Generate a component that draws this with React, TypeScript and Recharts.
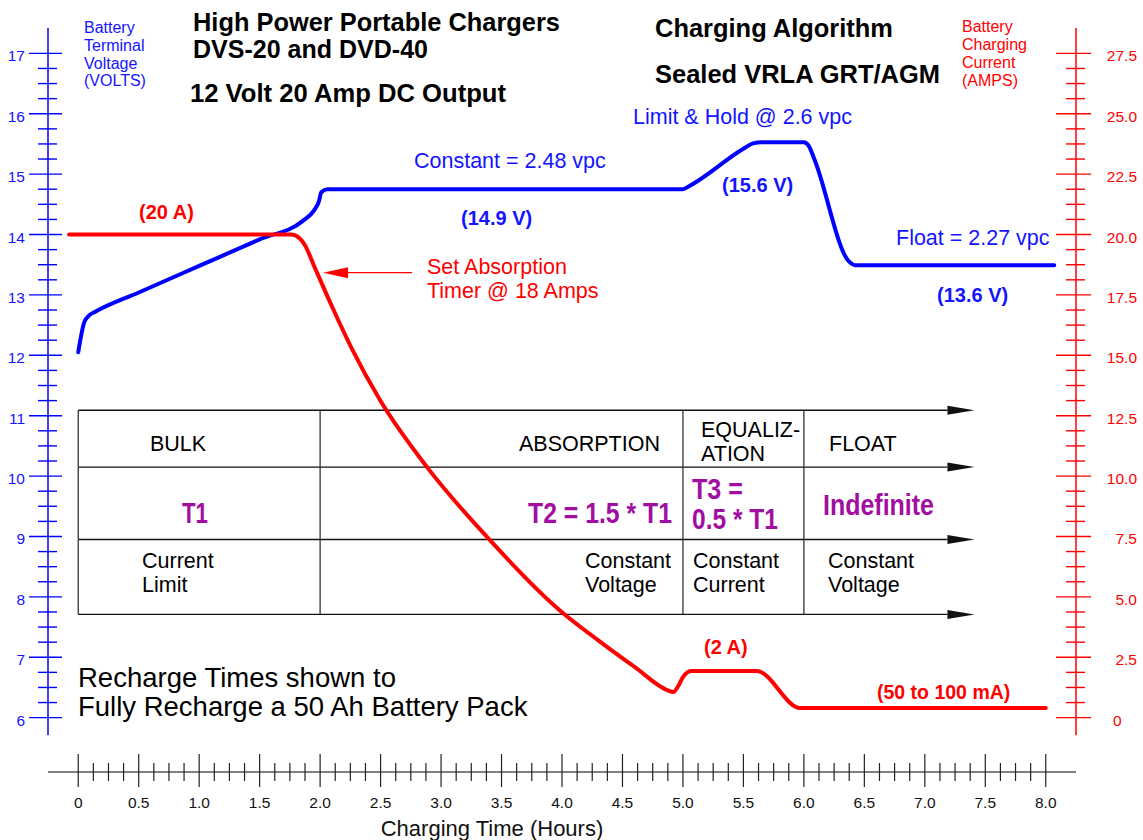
import React from 'react';
import { ComposedChart, Line, XAxis, YAxis, ReferenceLine } from 'recharts';

const FONT = '"Liberation Sans", Arial, Helvetica, sans-serif';
const BLUE = '#0000ff';
const BLUE_TEXT = '#1414ff';
const RED = '#ff0000';
const PURPLE = '#a10ea1';

// Battery terminal voltage (V) vs charging time (hours)
const voltTime = [0, 0.05, 0.09, 0.14, 0.5, 1.0, 1.5, 1.86, 1.95, 1.99, 2.01, 2.06, 5.0, 5.05, 5.5, 5.58, 5.65, 6.0, 6.04, 6.09, 6.37, 6.43, 8.07];
const voltValue = [12.05, 12.55, 12.66, 12.72, 13.04, 13.48, 13.92, 14.23, 14.4, 14.55, 14.7, 14.75, 14.75, 14.8, 15.42, 15.51, 15.53, 15.53, 15.47, 15.23, 13.56, 13.49, 13.49];

// Battery charging current (A) vs charging time (hours)
const ampTime = [-0.076, 1.76, 1.83, 1.875, 1.95, 2.1, 2.26, 2.495, 2.884, 3.389, 3.98, 4.3, 4.6, 4.88, 4.92, 4.96, 5.0, 5.07, 5.61, 5.97, 8.0];
const ampValue = [20, 20, 19.85, 19.56, 18.7, 17.0, 15.3, 13.15, 10.37, 7.43, 4.45, 3.2, 2.1, 1.12, 1.06, 1.3, 1.68, 1.93, 1.93, 0.4, 0.4];

// Axis ticks
const xMajorTicks = [0, 0.5, 1, 1.5, 2, 2.5, 3, 3.5, 4, 4.5, 5, 5.5, 6, 6.5, 7, 7.5, 8];
const xTickLabels = ['0', '0.5', '1.0', '1.5', '2.0', '2.5', '3.0', '3.5', '4.0', '4.5', '5.0', '5.5', '6.0', '6.5', '7.0', '7.5', '8.0'];
const voltMajorTicks = [6, 7, 8, 9, 10, 11, 12, 13, 14, 15, 16, 17];
const voltTickLabels = ['6', '7', '8', '9', '10', '11', '12', '13', '14', '15', '16', '17'];
const ampMajorTicks = [0, 2.5, 5, 7.5, 10, 12.5, 15, 17.5, 20, 22.5, 25, 27.5];
const ampTickLabels = ['0', '2.5', '5.0', '7.5', '10.0', '12.5', '15.0', '17.5', '20.0', '22.5', '25.0', '27.5'];

// Phase table grid (in chart units: hours / volts)
const tableRowsV = [11.09, 10.15, 8.95, 7.71];
const tableColsT = [0, 2, 5, 6];
const tableArrowEndT = 7.41;

const xTicks = Array.from({ length: 65 }, (_, i) => i * 0.125);
const voltTicks = Array.from({ length: 45 }, (_, i) => 6 + i * 0.25);
const ampTicks = Array.from({ length: 45 }, (_, i) => i * 0.625);

const voltData = voltTime.map((t, i) => ({ t, v: voltValue[i] }));
const ampData = ampTime.map((t, i) => ({ t, a: ampValue[i] }));

const findIdx = (arr: number[], v: number) => arr.findIndex((m) => Math.abs(m - v) < 1e-6);

const XTick = (p: any) => {
  const { x, y, payload } = p;
  const idx = findIdx(xMajorTicks, payload.value);
  const major = idx >= 0;
  return (
    <g>
      <line x1={x} x2={x} y1={y + (major ? -18 : -9)} y2={y + (major ? 15 : 9)} stroke="#222" strokeWidth={1.2} />
      {major && (
        <text x={x} y={y + 36} textAnchor="middle" fontSize={15.5} fontFamily={FONT} fill="#111">
          {xTickLabels[idx]}
        </text>
      )}
    </g>
  );
};

const VTick = (p: any) => {
  const { x, y, payload } = p;
  const idx = findIdx(voltMajorTicks, payload.value);
  const major = idx >= 0;
  return (
    <g>
      <line x1={x - (major ? 19 : 10)} x2={x + (major ? 14 : 9)} y1={y} y2={y} stroke={BLUE} strokeWidth={1.4} />
      {major && (
        <text x={x - 23} y={y + 8} textAnchor="end" fontSize={15.5} fontFamily={FONT} fill={BLUE_TEXT}>
          {voltTickLabels[idx]}
        </text>
      )}
    </g>
  );
};

const ATick = (p: any) => {
  const { x, y, payload } = p;
  const idx = findIdx(ampMajorTicks, payload.value);
  const major = idx >= 0;
  const label = idx >= 0 ? ampTickLabels[idx] : '';
  return (
    <g>
      <line x1={x - (major ? 20 : 10)} x2={x + (major ? 15 : 9)} y1={y} y2={y} stroke={RED} strokeWidth={1.4} />
      {major && (
        <text
          x={label === '0' ? x + 37 : x + 61}
          y={y + 8}
          textAnchor={label === '0' ? 'start' : 'end'}
          fontSize={15.5}
          fontFamily={FONT}
          fill={RED}
        >
          {label}
        </text>
      )}
    </g>
  );
};

const makeArrow = (color: string, len: number, half: number, width: number) => (p: any) => {
  const { x1, y1, x2, y2 } = p;
  const dx = x2 - x1;
  const dy = y2 - y1;
  const L = Math.hypot(dx, dy) || 1;
  const ux = dx / L;
  const uy = dy / L;
  const bx = x2 - ux * len;
  const by = y2 - uy * len;
  return (
    <g>
      <line x1={x1} y1={y1} x2={bx} y2={by} stroke={color} strokeWidth={width} />
      <polygon points={`${x2},${y2} ${bx - uy * half},${by + ux * half} ${bx + uy * half},${by - ux * half}`} fill={color} />
    </g>
  );
};

type Note = { t: string; x: number; y: number; s?: number; b?: boolean; c?: string; w?: number; a?: 'start' | 'middle' | 'end' };

const notes: Note[] = [
  { t: 'High Power Portable Chargers', x: 193, y: 31, s: 26, b: true, w: 367 },
  { t: 'DVS-20 and DVD-40', x: 193, y: 58, s: 26, b: true, w: 235 },
  { t: '12 Volt 20 Amp DC Output', x: 190, y: 102, s: 26, b: true, w: 316 },
  { t: 'Charging Algorithm', x: 655, y: 37, s: 26, b: true, w: 238 },
  { t: 'Sealed VRLA GRT/AGM', x: 655, y: 83, s: 26, b: true, w: 285 },
  { t: 'Battery', x: 84, y: 33, s: 16, c: BLUE_TEXT },
  { t: 'Terminal', x: 84, y: 51, s: 16, c: BLUE_TEXT },
  { t: 'Voltage', x: 84, y: 68.5, s: 16, c: BLUE_TEXT },
  { t: '(VOLTS)', x: 84, y: 86, s: 16, c: BLUE_TEXT },
  { t: 'Battery', x: 962, y: 32, s: 16, c: RED },
  { t: 'Charging', x: 962, y: 50, s: 16, c: RED },
  { t: 'Current', x: 962, y: 68, s: 16, c: RED },
  { t: '(AMPS)', x: 962, y: 86, s: 16, c: RED },
  { t: '(20 A)', x: 139, y: 219, s: 20, b: true, c: RED },
  { t: 'Set Absorption', x: 427, y: 274, s: 21.5, c: RED },
  { t: 'Timer @ 18 Amps', x: 427, y: 298, s: 21.5, c: RED },
  { t: 'Constant = 2.48 vpc', x: 414, y: 168, s: 21.5, c: BLUE_TEXT },
  { t: '(14.9 V)', x: 461, y: 225, s: 20, b: true, c: BLUE_TEXT },
  { t: 'Limit & Hold @ 2.6 vpc', x: 633, y: 124, s: 21.5, c: BLUE_TEXT },
  { t: '(15.6 V)', x: 722, y: 192, s: 20, b: true, c: BLUE_TEXT },
  { t: 'Float = 2.27 vpc', x: 896, y: 245, s: 21.5, c: BLUE_TEXT },
  { t: '(13.6 V)', x: 937, y: 302, s: 20, b: true, c: BLUE_TEXT },
  { t: '(2 A)', x: 704, y: 654, s: 20, b: true, c: RED },
  { t: '(50 to 100 mA)', x: 877, y: 699, s: 19.5, b: true, c: RED },
  { t: 'Recharge Times shown to', x: 78, y: 687, s: 27.5 },
  { t: 'Fully Recharge a 50 Ah Battery Pack', x: 78, y: 716, s: 27.5 },
  { t: 'BULK', x: 150, y: 451, s: 21.5 },
  { t: 'ABSORPTION', x: 519, y: 451, s: 21.5 },
  { t: 'EQUALIZ-', x: 701, y: 437, s: 21.5 },
  { t: 'ATION', x: 701, y: 461, s: 21.5 },
  { t: 'FLOAT', x: 829, y: 451, s: 21.5 },
  { t: 'T1', x: 182, y: 523, s: 29, b: true, c: PURPLE, w: 26 },
  { t: 'T2 = 1.5 * T1', x: 528, y: 523, s: 29, b: true, c: PURPLE, w: 144 },
  { t: 'T3 =', x: 692, y: 499, s: 29, b: true, c: PURPLE, w: 51 },
  { t: '0.5 * T1', x: 692, y: 529, s: 29, b: true, c: PURPLE, w: 86 },
  { t: 'Indefinite', x: 823, y: 515, s: 29, b: true, c: PURPLE, w: 111 },
  { t: 'Current', x: 142, y: 568, s: 21.5 },
  { t: 'Limit', x: 142, y: 592, s: 21.5 },
  { t: 'Constant', x: 585, y: 568, s: 21.5 },
  { t: 'Voltage', x: 585, y: 592, s: 21.5 },
  { t: 'Constant', x: 693, y: 568, s: 21.5 },
  { t: 'Current', x: 693, y: 592, s: 21.5 },
  { t: 'Constant', x: 828, y: 568, s: 21.5 },
  { t: 'Voltage', x: 828, y: 592, s: 21.5 },
  { t: 'Charging Time (Hours)', x: 492, y: 836, s: 22, a: 'middle', c: '#111' },
];

const tableArrow = makeArrow('#111', 27, 4.5, 1.3);
const redArrow = makeArrow(RED, 25, 5.5, 1.3);

export default function App() {
  return (
    <div style={{ position: 'absolute', left: 0, top: 0, width: 1143, height: 840, background: '#fff' }}>
      <ComposedChart width={1143} height={840} margin={{ top: 28, right: 0, bottom: 0, left: 0 }}>
        <XAxis
          xAxisId={0}
          type="number"
          dataKey="t"
          domain={[-0.25, 8.25]}
          ticks={xTicks}
          interval={0}
          allowDataOverflow
          height={68}
          tickSize={0}
          tickMargin={0}
          tickLine={false}
          tick={<XTick />}
          axisLine={{ stroke: '#555', strokeWidth: 1.5 }}
        />
        <YAxis
          yAxisId="v"
          type="number"
          domain={[5.1, 17.42]}
          ticks={voltTicks}
          interval={0}
          allowDataOverflow
          width={48}
          tickSize={0}
          tickMargin={0}
          tickLine={false}
          axisLine={false}
          tick={<VTick />}
        />
        <YAxis
          yAxisId="a"
          orientation="right"
          type="number"
          domain={[-2.25, 28.55]}
          ticks={ampTicks}
          interval={0}
          allowDataOverflow
          width={67}
          tickSize={0}
          tickMargin={0}
          tickLine={false}
          axisLine={false}
          tick={<ATick />}
        />
        <ReferenceLine yAxisId="v" segment={[{ x: -0.25, y: 5.71 }, { x: -0.25, y: 17.42 }]} stroke={BLUE} strokeWidth={1.5} ifOverflow="visible" />
        <ReferenceLine yAxisId="v" segment={[{ x: 8.25, y: 5.71 }, { x: 8.25, y: 17.42 }]} stroke={RED} strokeWidth={1.5} ifOverflow="visible" />
        {tableRowsV.map((r, i) => (
          <ReferenceLine
            key={'row' + i}
            yAxisId="v"
            segment={[{ x: tableColsT[0], y: r }, { x: tableArrowEndT, y: r }]}
            stroke="#111"
            strokeWidth={1.3}
            ifOverflow="visible"
            shape={tableArrow}
          />
        ))}
        {tableColsT.map((c, i) => (
          <ReferenceLine
            key={'col' + i}
            yAxisId="v"
            segment={[{ x: c, y: tableRowsV[tableRowsV.length - 1] }, { x: c, y: tableRowsV[0] }]}
            stroke="#333"
            strokeWidth={1.3}
            ifOverflow="visible"
          />
        ))}
        <ReferenceLine
          yAxisId="a"
          segment={[{ x: 2.76, y: 18.42 }, { x: 2.024, y: 18.42 }]}
          stroke={RED}
          strokeWidth={1.3}
          ifOverflow="visible"
          shape={redArrow}
        />
        <Line
          yAxisId="v"
          data={voltData}
          dataKey="v"
          type="monotone"
          stroke={BLUE}
          strokeWidth={4}
          dot={false}
          activeDot={false}
          isAnimationActive={false}
          strokeLinejoin="round"
          strokeLinecap="round"
        />
        <Line
          yAxisId="a"
          data={ampData}
          dataKey="a"
          type="monotone"
          stroke={RED}
          strokeWidth={4}
          dot={false}
          activeDot={false}
          isAnimationActive={false}
          strokeLinejoin="round"
          strokeLinecap="round"
        />
      </ComposedChart>
      <svg width={1143} height={840} style={{ position: 'absolute', left: 0, top: 0, pointerEvents: 'none' }}>
        {notes.map((n, i) => (
          <text
            key={i}
            x={n.x}
            y={n.y}
            fontSize={n.s ?? 21.5}
            fontWeight={n.b ? 700 : 400}
            fill={n.c ?? '#000'}
            fontFamily={FONT}
            textAnchor={n.a ?? 'start'}
            {...(n.w ? { textLength: n.w, lengthAdjust: 'spacingAndGlyphs' } : {})}
          >
            {n.t}
          </text>
        ))}
      </svg>
    </div>
  );
}
